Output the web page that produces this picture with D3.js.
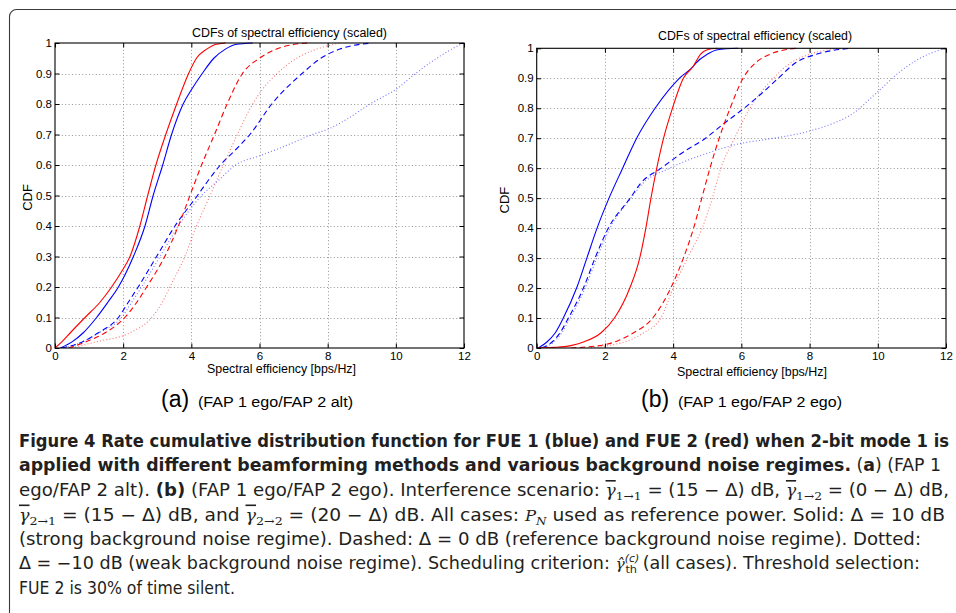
<!DOCTYPE html>
<html><head><meta charset="utf-8">
<script src="https://cdn.jsdelivr.net/npm/d3@7"></script>
<style>body{margin:0;background:#fff}svg{display:block}</style>
</head><body>
<svg id="c" width="956" height="613"></svg>
<script>
// ---------------- data ----------------
const xTicks = [0, 2, 4, 6, 8, 10, 12];
const yTicks = [0, 0.1, 0.2, 0.3, 0.4, 0.5, 0.6, 0.7, 0.8, 0.9, 1];
const yTickLabels = ["0", "0.1", "0.2", "0.3", "0.4", "0.5", "0.6", "0.7", "0.8", "0.9", "1"];
const chartTitle = "CDFs of spectral efficiency (scaled)";
const xLabel = "Spectral efficiency [bps/Hz]";
const yLabel = "CDF";
const panelLetters = ["(a)", "(b)"];
const panelNotes = ["(FAP 1 ego/FAP 2 alt)", "(FAP 1 ego/FAP 2 ego)"];

// panel (a): FAP 1 ego / FAP 2 alt   [spectral efficiency, CDF]
const aBlueSolid = [[0.15,0],[0.5,0.02],[0.83,0.05],[1.22,0.1],[1.55,0.15],[1.86,0.2],[2.3,0.3],[2.64,0.4],[2.88,0.5],[3.16,0.6],[3.42,0.7],[3.76,0.8],[4.02,0.85],[4.32,0.9],[4.66,0.95],[5.0,0.98],[5.3,0.995],[5.8,1]];
const aBlueDashed = [[0.2,0],[0.8,0.02],[1.27,0.05],[1.86,0.1],[2.15,0.15],[2.44,0.2],[2.98,0.3],[3.52,0.4],[4.18,0.5],[4.5,0.55],[4.85,0.6],[5.3,0.65],[5.72,0.7],[6.36,0.8],[7.25,0.9],[7.8,0.95],[8.36,0.98],[9.3,1]];
const aBlueDotted = [[0.3,0],[0.8,0.02],[1.3,0.05],[1.95,0.1],[2.25,0.15],[2.54,0.2],[3.08,0.3],[3.62,0.4],[4.3,0.5],[4.8,0.55],[5.3,0.6],[6.0,0.63],[6.7,0.66],[7.55,0.7],[8.06,0.72],[8.56,0.75],[9.24,0.8],[10.03,0.85],[10.58,0.9],[11.2,0.95],[11.97,1]];
const aRedSolid = [[0,0],[0.2,0.02],[0.45,0.05],[0.88,0.1],[1.32,0.15],[1.66,0.2],[1.95,0.25],[2.2,0.3],[2.49,0.4],[2.72,0.5],[2.96,0.6],[3.25,0.7],[3.57,0.8],[3.92,0.9],[4.15,0.95],[4.45,0.98],[4.7,0.995],[5.0,1]];
const aRedDashed = [[0.4,0],[0.9,0.02],[1.47,0.05],[2.05,0.1],[2.4,0.15],[2.69,0.2],[3.22,0.3],[3.62,0.4],[3.96,0.5],[4.3,0.6],[4.68,0.7],[5.05,0.8],[5.5,0.9],[6.0,0.95],[6.5,0.98],[7.0,0.995],[7.4,1]];
const aRedDotted = [[0.5,0],[1.2,0.02],[2.2,0.05],[2.84,0.1],[3.15,0.15],[3.37,0.2],[3.81,0.3],[4.15,0.4],[4.55,0.5],[4.94,0.6],[5.35,0.7],[5.8,0.8],[6.1,0.85],[6.52,0.9],[7.09,0.95],[7.68,0.98],[8.36,1]];

// panel (b): FAP 1 ego / FAP 2 ego
const bBlueSolid = [[0.05,0],[0.3,0.02],[0.54,0.05],[0.78,0.1],[1.17,0.2],[1.47,0.3],[1.77,0.4],[2.12,0.5],[2.52,0.6],[2.93,0.7],[3.47,0.8],[4.18,0.9],[4.59,0.94],[4.66,0.95],[5.0,0.98],[5.3,0.995],[5.9,1]];
const bBlueDashed = [[0.15,0],[0.45,0.02],[0.68,0.05],[0.93,0.1],[1.37,0.2],[1.71,0.3],[2.1,0.4],[2.74,0.5],[3.05,0.55],[3.65,0.6],[4.25,0.65],[4.95,0.7],[5.5,0.75],[6.08,0.8],[6.6,0.85],[7.08,0.9],[7.57,0.95],[8.2,0.98],[9.2,1]];
const bBlueDotted = [[0.2,0],[0.5,0.02],[0.73,0.05],[0.98,0.1],[1.42,0.2],[1.76,0.3],[2.15,0.4],[2.76,0.5],[3.12,0.55],[3.9,0.6],[5.0,0.65],[6.0,0.683],[6.74,0.696],[8.0,0.724],[8.7,0.75],[9.2,0.777],[10.0,0.855],[10.65,0.922],[11.24,0.967],[11.97,1]];
const bRedSolid = [[0,0],[0.5,0.002],[1.0,0.008],[1.37,0.02],[1.88,0.05],[2.28,0.1],[2.73,0.2],[3.02,0.3],[3.2,0.4],[3.35,0.5],[3.52,0.6],[3.72,0.7],[3.98,0.8],[4.3,0.9],[4.59,0.94],[4.8,0.98],[5.0,0.995],[5.3,1]];
const bRedDashed = [[1.0,0],[1.5,0.004],[1.96,0.01],[2.4,0.025],[2.83,0.05],[3.4,0.1],[3.93,0.2],[4.3,0.3],[4.6,0.4],[4.84,0.5],[5.08,0.6],[5.35,0.7],[5.67,0.8],[6.05,0.9],[6.4,0.95],[6.84,0.98],[7.62,1]];
const bRedDotted = [[1.5,0],[2.2,0.01],[2.7,0.025],[3.13,0.05],[3.64,0.1],[4.0,0.2],[4.42,0.3],[4.85,0.4],[5.15,0.5],[5.4,0.6],[5.8,0.7],[6.25,0.8],[6.94,0.9],[7.43,0.95],[8.0,0.98],[8.9,1]];

const seriesNames = ["FUE 1 dotted","FUE 2 dotted","FUE 1 dashed","FUE 2 dashed","FUE 1 solid","FUE 2 solid"];
const panelSeries = [
  [aBlueDotted, aRedDotted, aBlueDashed, aRedDashed, aBlueSolid, aRedSolid],
  [bBlueDotted, bRedDotted, bBlueDashed, bRedDashed, bBlueSolid, bRedSolid]
];

const captionLines = [
  [{t:"Figure 4 Rate cumulative distribution function for FUE 1 (blue) and FUE 2 (red) when 2-bit mode 1 is", b:1}],
  [{t:"applied with different beamforming methods and various background noise regimes.", b:1},{t:" ("},{t:"a", b:1},{t:") (FAP 1"}],
  [{t:"ego/FAP 2 alt). "},{t:"(b)", b:1},{t:" (FAP 1 ego/FAP 2 ego). Interference scenario: "},{t:"γ", m:"bar"},{t:"1→1", m:"sub"},{t:" = (15 − Δ) dB, "},{t:"γ", m:"bar"},{t:"1→2", m:"sub"},{t:" = (0 − Δ) dB,"}],
  [{t:"γ", m:"bar"},{t:"2→1", m:"sub"},{t:" = (15 − Δ) dB, and "},{t:"γ", m:"bar"},{t:"2→2", m:"sub"},{t:" = (20 − Δ) dB. All cases: "},{t:"P", m:"it"},{t:"N", m:"subit"},{t:" used as reference power. Solid: Δ = 10 dB"}],
  [{t:"(strong background noise regime). Dashed: Δ = 0 dB (reference background noise regime). Dotted:"}],
  [{t:"Δ = −10 dB (weak background noise regime). Scheduling criterion: "},{t:"γ̂", m:"it"},{t:"(c)", m:"sup"},{t:"th", m:"subback"},{t:" (all cases). Threshold selection:"}],
  [{t:"FUE 2 is 30% of time silent."}]
];

// ---------------- layout ----------------
const svg = d3.select("#c");
svg.append("rect").attr("width",956).attr("height",613).attr("fill","#fff");
svg.append("rect").attr("x",9.5).attr("y",9.5).attr("width",980).attr("height",640).attr("rx",7)
  .attr("fill","none").attr("stroke","#3a3a3a").attr("stroke-width",1.1);

const panels = [
  {x0:55, x1:464, y0:43, y1:348, titleX:192, titleW:195, titleY:37, xlX:207, xlW:149, xlY:372.5, ylX:31.5, letterX:161, noteX:198, noteW:155},
  {x0:536.7, x1:946, y0:48.3, y1:348, titleX:658, titleW:194, titleY:40, xlX:677, xlW:150, xlY:375.5, ylX:508.5, letterX:641, noteX:678, noteW:164}
];
const colorOf = i => (i % 2 === 0) ? "#0000ff" : "#ff0000";
const FONT = "'Liberation Sans', Arial, Helvetica, sans-serif";

panels.forEach((p, pi) => {
  const g = svg.append("g");
  const x = d3.scaleLinear().domain([0, 12]).range([p.x0, p.x1]);
  const y = d3.scaleLinear().domain([0, 1]).range([p.y1, p.y0]);

  // grid
  const grid = g.append("g").attr("stroke","#8a8a8a").attr("stroke-width",0.9).attr("stroke-dasharray","1,2.4");
  grid.selectAll(".gx").data(xTicks.slice(1,-1)).join("line")
    .attr("x1",d=>Math.round(x(d))+0.5).attr("x2",d=>Math.round(x(d))+0.5).attr("y1",p.y0).attr("y2",p.y1);
  grid.selectAll(".gy").data(yTicks.slice(1,-1)).join("line")
    .attr("y1",d=>Math.round(y(d))+0.5).attr("y2",d=>Math.round(y(d))+0.5).attr("x1",p.x0).attr("x2",p.x1);

  // curves
  const line = d3.line().x(d=>x(d[0])).y(d=>y(d[1])).curve(d3.curveMonotoneX);
  const clipId = "clip"+pi;
  svg.append("clipPath").attr("id",clipId).append("rect")
    .attr("x",p.x0).attr("y",p.y0-2).attr("width",p.x1-p.x0).attr("height",p.y1-p.y0+2);
  const cg = g.append("g").attr("clip-path",`url(#${clipId})`);
  panelSeries[pi].forEach((data, si) => {
    const kind = si < 2 ? "dotted" : (si < 4 ? "dashed" : "solid");
    const path = cg.append("path").datum(data).attr("d", line).attr("fill","none")
      .attr("stroke", colorOf(si)).attr("stroke-width", 1.1).attr("data-name", seriesNames[si]);
    if (kind === "dotted") path.attr("stroke-dasharray","1,2.2").attr("stroke-opacity",0.55);
    if (kind === "dashed") path.attr("stroke-dasharray","5.5,3.5");
  });

  // axes with inward ticks
  const ax = g.append("g").attr("font-family",FONT);
  const bottom = d3.axisBottom(x).tickValues(xTicks).tickSize(-4.5).tickPadding(4.3).tickFormat(d3.format("d"));
  ax.append("g").attr("transform",`translate(0,${p.y1})`).call(bottom);
  ax.append("g").attr("transform",`translate(0,${p.y0})`).call(d3.axisTop(x).tickValues(xTicks).tickSize(-4.5).tickFormat(""));
  const left = d3.axisLeft(y).tickValues(yTicks).tickSize(-4.5).tickPadding(3).tickFormat((d,i)=>yTickLabels[i]);
  ax.append("g").attr("transform",`translate(${p.x0},0)`).call(left);
  ax.append("g").attr("transform",`translate(${p.x1},0)`).call(d3.axisRight(y).tickValues(yTicks).tickSize(-4.5).tickFormat(""));
  ax.selectAll(".domain").remove();
  ax.selectAll(".tick line").attr("stroke","#000").attr("stroke-width",1);
  ax.selectAll("text").attr("font-size",11.5).attr("fill","#000");

  g.append("rect").attr("x",p.x0).attr("y",p.y0).attr("width",p.x1-p.x0).attr("height",p.y1-p.y0)
    .attr("fill","none").attr("stroke","#000").attr("stroke-width",1.1);

  // labels
  g.append("text").attr("x",p.titleX).attr("y",p.titleY).attr("font-family",FONT).attr("font-size",12)
    .attr("textLength",p.titleW).attr("lengthAdjust","spacingAndGlyphs").text(chartTitle);
  g.append("text").attr("x",p.xlX).attr("y",p.xlY).attr("font-family",FONT).attr("font-size",12)
    .attr("textLength",p.xlW).attr("lengthAdjust","spacingAndGlyphs").text(xLabel);
  g.append("text").attr("transform",`translate(${p.ylX},${(p.y0+p.y1)/2 + 2}) rotate(-90)`)
    .attr("text-anchor","middle").attr("font-family",FONT).attr("font-size",13).text(yLabel);
  g.append("text").attr("x",p.letterX).attr("y",407).attr("font-family",FONT).attr("font-size",23).text(panelLetters[pi]);
  g.append("text").attr("x",p.noteX).attr("y",407).attr("font-family",FONT).attr("font-size",15.5)
    .attr("textLength",p.noteW).attr("lengthAdjust","spacingAndGlyphs").text(panelNotes[pi]);
});

// caption
const capBase = [446.5, 471, 496, 520.5, 545, 569.3, 594];
const capWidth = [930, 922, 930, 926, 902, 901, 216];
const CAPFONT = "'Liberation Sans Narrow', 'DejaVu Sans Condensed', 'Roboto', 'Noto Sans', sans-serif";
captionLines.forEach((segs, li) => {
  const t = svg.append("text").attr("x",19).attr("y",capBase[li]).attr("font-family",CAPFONT)
    .attr("font-size",17).attr("fill","#231f20").style("font-stretch","condensed")
    .attr("textLength",capWidth[li]).attr("lengthAdjust","spacingAndGlyphs");
  let shift = 0;
  segs.forEach(s => {
    const sp = t.append("tspan").text(s.t);
    let target = 0;
    if (s.b) sp.attr("font-weight","bold");
    if (s.m === "bar") sp.attr("font-style","italic").attr("font-family","'DejaVu Serif', serif").attr("font-size",16).style("text-decoration","overline");
    if (s.m === "it") sp.attr("font-style","italic").attr("font-family","'DejaVu Serif', serif").attr("font-size",15);
    if (s.m === "sub") { target = 4; sp.attr("font-size",11.5).attr("font-family","'DejaVu Serif', serif"); }
    if (s.m === "subit") { target = 4; sp.attr("font-size",11).attr("font-style","italic").attr("font-family","'DejaVu Serif', serif"); }
    if (s.m === "sup") { target = -7; sp.attr("font-size",10.5).attr("font-style","italic"); }
    if (s.m === "subback") { target = 4; sp.attr("font-size",11).attr("dx",-12); }
    if (target !== shift) { sp.attr("dy", target - shift); shift = target; }
  });
});
</script>
</body></html>
